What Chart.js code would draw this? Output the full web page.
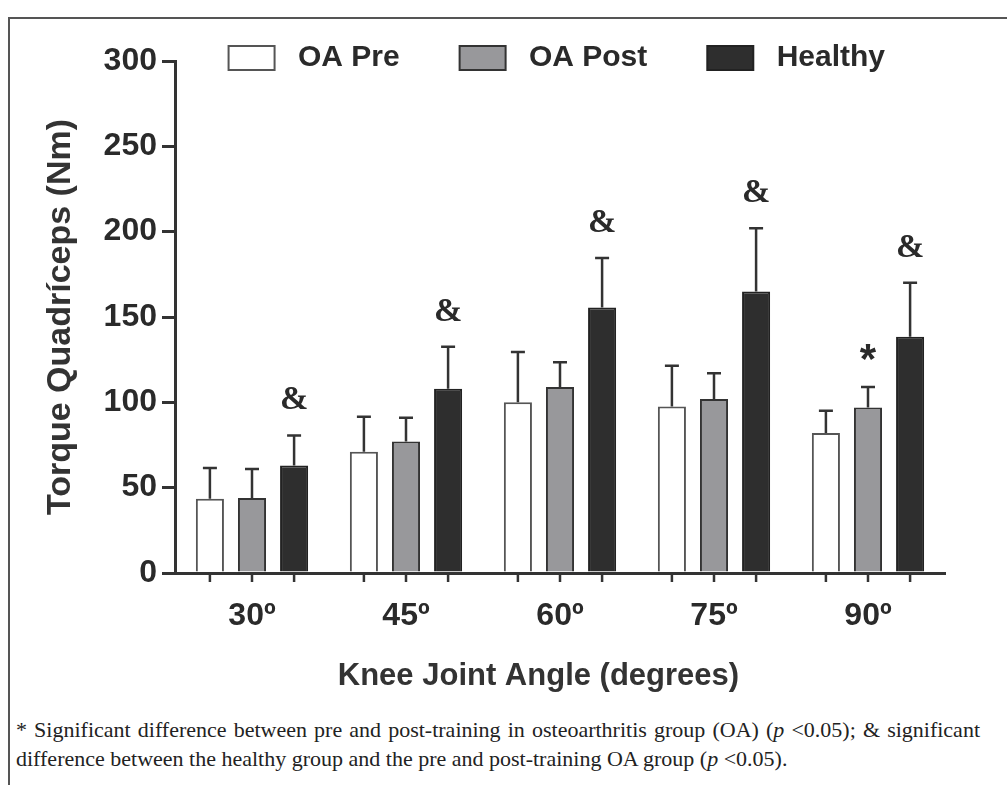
<!DOCTYPE html>
<html>
<head>
<meta charset="utf-8">
<script src="https://cdn.jsdelivr.net/npm/chart.js@4.4.1/dist/chart.umd.min.js"></script>
<style>
  body { margin: 0; background: #fff; }
  #frame { position: absolute; left: 8px; top: 17px; width: 1010px; height: 780px; border-left: 2px solid #555; border-top: 2px solid #555; }
  #wrap { position: absolute; left: 0; top: 0; width: 1007px; height: 700px; }
  #note { position: absolute; left: 16px; top: 715px; width: 964px; font-family: 'Liberation Serif', serif; font-size: 22px; color: #222; line-height: 29px; }
  #note .l1 { text-align: justify; text-align-last: justify; }
</style>
</head>
<body>
<div id="frame"></div>
<div id="wrap"><canvas id="torque-chart"></canvas></div>
<div id="note">
  <div class="l1">* Significant difference between pre and post-training in osteoarthritis group (OA) (<i>p</i> &lt;0.05); &amp; significant</div>
  <div>difference between the healthy group and the pre and post-training OA group (<i>p</i> &lt;0.05).</div>
</div>
<script>
// Data
const angles = ['30º', '45º', '60º', '75º', '90º'];
const oaPre = [43.5, 71, 100, 97.5, 82];
const oaPreSd = [18, 20.5, 29.5, 24, 13];
const oaPost = [44, 77, 109, 102, 97];
const oaPostSd = [17, 14, 14.5, 15, 12];
const healthy = [63, 108, 155.5, 165, 138.5];
const healthySd = [17.5, 24.5, 29, 37, 31.5];
const oaPreMarks = ['', '', '', '', ''];
const oaPostMarks = ['', '', '', '', '*'];
const healthyMarks = ['&', '&', '&', '&', '&'];
const yMax = 300;
const yStep = 50;

const sans = "'Liberation Sans', Arial, sans-serif";

// Error bars, axis ticks under each bar, and significance marks
const errorBars = {
  id: 'errorBars',
  afterDatasetsDraw(chart) {
    const ctx = chart.ctx;
    const y = chart.scales.y;
    const bottom = chart.chartArea.bottom;
    chart.data.datasets.forEach((ds, i) => {
      chart.getDatasetMeta(i).data.forEach((bar, j) => {
        const top = y.getPixelForValue(ds.data[j] + ds.sd[j]);
        ctx.save();
        ctx.strokeStyle = '#333';
        ctx.lineWidth = 2.5;
        ctx.beginPath();
        ctx.moveTo(bar.x, bar.y);
        ctx.lineTo(bar.x, top);
        ctx.moveTo(bar.x - 7, top);
        ctx.lineTo(bar.x + 7, top);
        ctx.moveTo(bar.x, bottom);
        ctx.lineTo(bar.x, bottom + 9);
        ctx.stroke();
        const mark = ds.marks[j];
        if (mark) {
          ctx.fillStyle = '#2a2a2a';
          ctx.textAlign = 'center';
          ctx.textBaseline = 'middle';
          if (mark === '&') {
            ctx.font = "bold 34px 'Liberation Serif', serif";
            ctx.fillText(mark, bar.x, top - 35);
          } else {
            ctx.font = 'bold 42px ' + sans;
            ctx.fillText(mark, bar.x, top - 26);
          }
        }
        ctx.restore();
      });
    });
  }
};

// Legend overlaps the top of the plot in the figure: let it draw below its box
const legendRoom = {
  id: 'legendRoom',
  afterLayout(chart) {
    if (chart.legend) {
      chart.legend.bottom += 25;
      chart.legend.height += 25;
    }
  }
};

const ctx = document.getElementById('torque-chart');
const torqueChart = new Chart(ctx, {
  type: 'bar',
  data: {
    labels: angles,
    datasets: [{
      label: 'OA Pre',
      data: oaPre,
      sd: oaPreSd,
      marks: oaPreMarks,
      backgroundColor: '#ffffff',
      borderColor: '#555',
      borderWidth: 2
    },
    {
      label: 'OA Post',
      data: oaPost,
      sd: oaPostSd,
      marks: oaPostMarks,
      backgroundColor: '#98989b',
      borderColor: '#333',
      borderWidth: 2
    },
    {
      label: 'Healthy',
      data: healthy,
      sd: healthySd,
      marks: healthyMarks,
      backgroundColor: '#2e2e2e',
      borderColor: '#222',
      borderWidth: 2
    }]
  },
  options: {
    responsive: true,
    maintainAspectRatio: false,
    animation: false,
    layout: {
      padding: { top: -17, right: 62, bottom: 0, left: 0 }
    },
    datasets: {
      bar: { categoryPercentage: 0.82, barPercentage: 0.667 }
    },
    plugins: {
      tooltip: { enabled: false },
      legend: {
        position: 'top',
        align: 'end',
        maxHeight: 78,
        labels: {
          color: '#2a2a2a',
          font: { family: sans, size: 30, weight: 'bold' },
          boxWidth: 46,
          boxHeight: 24,
          padding: 60,
          generateLabels: chart => Chart.defaults.plugins.legend.labels.generateLabels(chart)
            .map(item => ({ ...item, text: ' ' + item.text }))
        }
      }
    },
    scales: {
      x: {
        afterFit: scale => { scale.height = 127; },
        grid: { display: false, drawTicks: false },
        border: { display: true, color: '#333', width: 3 },
        ticks: {
          color: '#2a2a2a',
          padding: 24,
          font: { family: sans, size: 32, weight: 'bold' }
        },
        title: {
          display: true,
          text: 'Knee Joint Angle (degrees)     ',
          color: '#333',
          font: { family: sans, size: 31, weight: 'bold' },
          padding: { top: 0, bottom: 5 }
        }
      },
      y: {
        min: 0,
        max: yMax,
        afterFit: scale => { scale.width = 175; },
        grid: { display: true, drawOnChartArea: false, drawTicks: true, tickLength: 13, color: '#333', lineWidth: 3 },
        border: { display: true, color: '#333', width: 3 },
        ticks: {
          stepSize: yStep,
          color: '#2a2a2a',
          padding: 5,
          font: { family: sans, size: 32, weight: 'bold' }
        },
        title: {
          display: true,
          text: 'Torque Quadríceps (Nm)',
          color: '#333',
          font: { family: sans, size: 34, weight: 'bold' },
          padding: { top: 40, bottom: 0 }
        }
      }
    }
  },
  plugins: [errorBars, legendRoom]
});
</script>
</body>
</html>
